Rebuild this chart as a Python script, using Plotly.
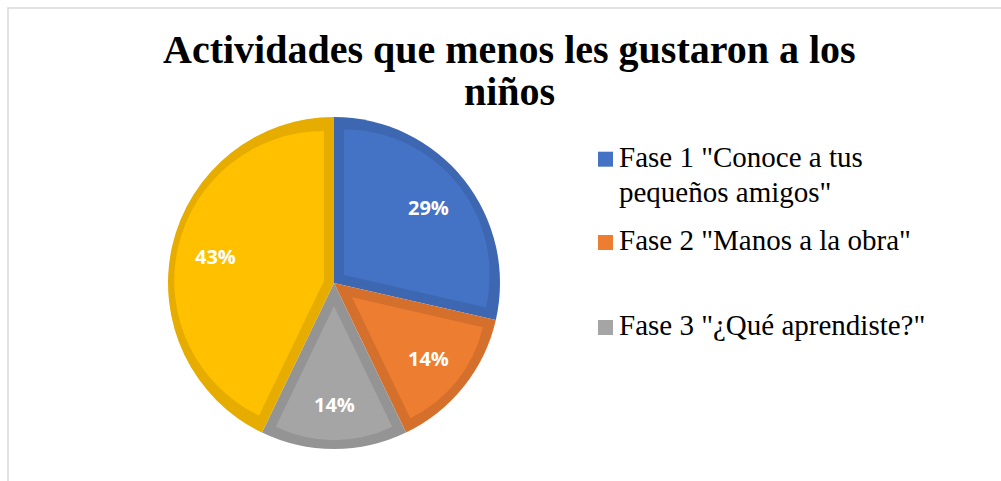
import math
import plotly.graph_objects as go

# ---------------- data ----------------
CATEGORIES = ['Fase 1 "Conoce a tus pequeños amigos"',
              'Fase 2 "Manos a la obra"',
              'Fase 3 "¿Qué aprendiste?"',
              'Fase 4']
VALUES = [2, 1, 1, 3]
LEGEND_LINES = [['Fase 1 "Conoce a tus', 'pequeños amigos"'],
                ['Fase 2 "Manos a la obra"'],
                ['Fase 3 "¿Qué aprendiste?"']]
TITLE_LINES = ['Actividades que menos les gustaron a los', 'niños']

# ---------------- style ----------------
FILL = ['#4472C4', '#ED7D31', '#A5A5A5', '#FFC000']


def shade(hex_color, f):
    h = hex_color.lstrip('#')
    r, g, b = (int(h[i:i + 2], 16) for i in (0, 2, 4))
    return '#%02X%02X%02X' % (round(r * f), round(g * f), round(b * f))


EDGE = [shade(c, 0.9) for c in FILL]

W, H = 1001, 481
CX, CY = 334, 283       # pie centre (px)
R = 166                 # pie radius (px)
BORDER = 10             # inset border width (px)
LABEL_F = 0.73          # label radius fraction
TITLE_FONT = 40
LEG_FONT = 29


def px(x):
    return x / W


def py(y):
    return 1 - y / H


def domain(radius):
    return dict(x=[px(CX - radius), px(CX + radius)],
                y=[py(CY + radius), py(CY - radius)])


fig = go.Figure()
common = dict(labels=CATEGORIES, values=VALUES, sort=False,
              direction='clockwise', rotation=0, textinfo='none',
              hoverinfo='skip', showlegend=False)

# dark (border) layer
fig.add_trace(go.Pie(**common, domain=domain(R),
                     marker=dict(colors=EDGE, line=dict(width=0))))

# light inset layer: one trace per slice, pulled so edges are inset
total = sum(VALUES)
for k, v in enumerate(VALUES):
    half = math.pi * v / total
    s = BORDER / math.sin(half) if half < math.pi / 2 else BORDER
    rk = R - BORDER - s * (1 + math.cos(half)) / 2
    colors = ['rgba(0,0,0,0)'] * len(VALUES)
    colors[k] = FILL[k]
    pulls = [0] * len(VALUES)
    pulls[k] = s / rk
    fig.add_trace(go.Pie(**common, domain=domain(rk + s), pull=pulls,
                         marker=dict(colors=colors, line=dict(width=0))))

annotations = []
# data labels
cum = 0
for v in VALUES:
    mid = 2 * math.pi * (cum + v / 2) / total
    cum += v
    x = CX + LABEL_F * R * math.sin(mid)
    y = CY - LABEL_F * R * math.cos(mid)
    annotations.append(dict(
        x=px(x), y=py(y), xref='paper', yref='paper',
        text=f'{round(100 * v / total)}%', showarrow=False,
        xanchor='center', yanchor='middle',
        font=dict(family='Open Sans', size=20, color='white', weight='bold')))

# title
for line, yb in zip(TITLE_LINES, [63, 105]):
    annotations.append(dict(
        x=px(510), y=py(yb - 0.3375 * TITLE_FONT), xref='paper', yref='paper',
        text=f'<b>{line}</b>', showarrow=False, xanchor='center', yanchor='middle',
        font=dict(family='Liberation Serif', size=TITLE_FONT, color='black')))

# legend
shapes = []
legend_baselines = [166.7, 250, 335]
for k, (lines, base) in enumerate(zip(LEGEND_LINES, legend_baselines)):
    shapes.append(dict(type='rect', xref='paper', yref='paper',
                       x0=px(598), x1=px(613), y0=py(base), y1=py(base - 15),
                       fillcolor=FILL[k], line=dict(width=0)))
    for j, line in enumerate(lines):
        annotations.append(dict(
            x=px(617), y=py(base + 35 * j - 0.3375 * LEG_FONT),
            xref='paper', yref='paper', text=line, showarrow=False,
            xanchor='left', yanchor='middle',
            font=dict(family='Liberation Serif', size=LEG_FONT, color='black')))

# chart-area border (cropped at right / bottom)
shapes.append(dict(type='rect', xref='paper', yref='paper',
                   x0=px(8), x1=1.02, y0=-0.02, y1=py(8),
                   line=dict(color='#D9D9D9', width=1.5),
                   fillcolor='rgba(0,0,0,0)'))

fig.update_layout(width=W, height=H, margin=dict(l=0, r=0, t=0, b=0),
                  paper_bgcolor='white', plot_bgcolor='white',
                  annotations=annotations, shapes=shapes, showlegend=False)
fig.write_html('out.html',
               config={'displayModeBar': False},
               post_script="document.body.style.margin='0';"
                           "document.body.style.overflow='hidden';")
